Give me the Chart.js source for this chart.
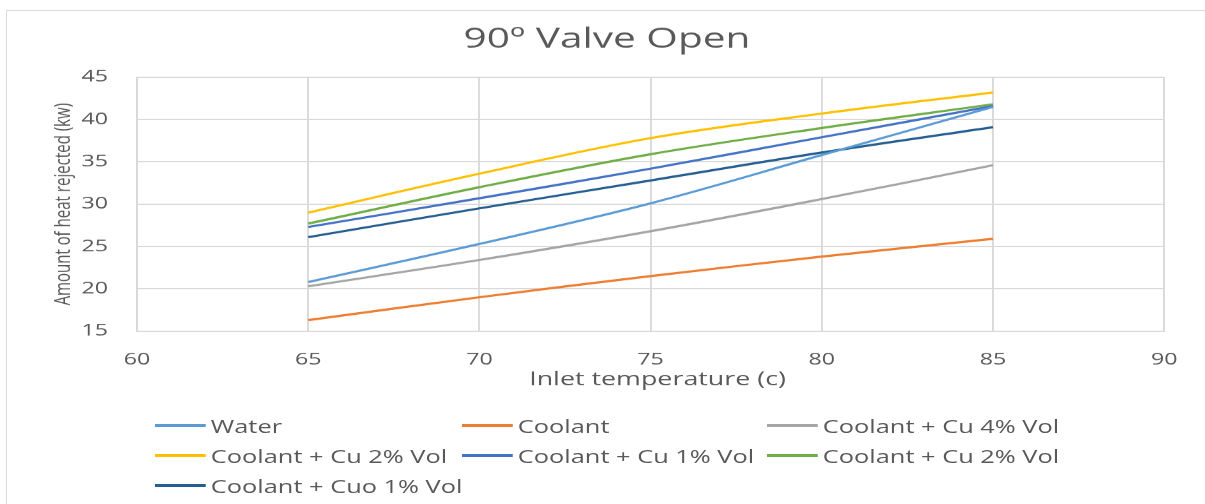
<!DOCTYPE html>
<html>
<head>
<meta charset="utf-8">
<title>90º Valve Open</title>
<script src="https://cdn.jsdelivr.net/npm/chart.js@4/dist/chart.umd.min.js"></script>
<style>
  html, body { margin: 0; padding: 0; background: #fff; }
  #wrap { position: relative; width: 1205px; height: 504px; overflow: hidden; }
  #frame { position: absolute; left: 6px; top: 10px; width: 1300px; height: 600px; border: 1px solid #d9d9d9; box-sizing: border-box; }
  #chart { position: absolute; left: 0; top: 0; }
  .item { position: absolute; height: 22px; display: flex; align-items: center; white-space: nowrap;
          transform: scaleX(1.45); transform-origin: 0 50%;
          font-family: 'Open Sans', sans-serif; font-size: 17.5px; color: #595959; }
  .item i { display: inline-block; width: 34.5px; height: 2.4px; margin-right: 4px; }
</style>
</head>
<body>
<div id="wrap">
  <div id="frame"></div>
  <canvas id="chart" width="831" height="504" style="width:1205px;height:504px"></canvas>
  <div id="legend"></div>
</div>
<script>
// inlet temperature (c)
const temps = [65, 70, 75, 80, 85];

// heat rejected (kw)
const water    = [20.8, 25.3, 30.1, 35.8, 41.5];
const coolant  = [16.3, 19.0, 21.5, 23.8, 25.9];
const cu4      = [20.3, 23.4, 26.8, 30.6, 34.6];
const cu2      = [29.0, 33.6, 37.8, 40.7, 43.2];
const cu1      = [27.3, 30.7, 34.2, 37.9, 41.6];
const cu2b     = [27.7, 32.0, 35.9, 39.0, 41.8];
const cuo1     = [26.1, 29.5, 32.8, 36.1, 39.1];

const seriesNames = ["Water", "Coolant", "Coolant + Cu 4% Vol", "Coolant + Cu 2% Vol",
                     "Coolant + Cu 1% Vol", "Coolant + Cu 2% Vol", "Coolant + Cuo 1% Vol"];
const seriesValues = [water, coolant, cu4, cu2, cu1, cu2b, cuo1];
const seriesColors = ["#5B9BD5", "#ED7D31", "#A5A5A5", "#FFC000", "#4472C4", "#70AD47", "#255E91"];

const xTicks = [60, 65, 70, 75, 80, 85, 90];
const yTicks = [15, 20, 25, 30, 35, 40, 45];

// the picture is stretched sideways, so draw narrow and widen
const SX = 1205 / 831;
const grey = "#595959";
const gridColor = "#d9d9d9";

const datasets = seriesNames.map((name, i) => ({
    label: name,
    data: temps.map((t, j) => ({ x: t, y: seriesValues[i][j] })),
    borderColor: seriesColors[i],
    backgroundColor: seriesColors[i],
    borderWidth: 2.2,
    pointRadius: 0,
    showLine: true,
    tension: 0.35
}));

const chart = new Chart("chart", {
    type: "scatter",
    data: { datasets: datasets },
    options: {
        responsive: false,
        devicePixelRatio: SX,
        animation: false,
        layout: { padding: { top: 10, left: 33.2, right: 27, bottom: 113.3 } },
        plugins: {
            legend: { display: false },
            tooltip: { enabled: false },
            title: {
                display: true,
                text: "90º Valve Open",
                color: grey,
                font: { family: "'Open Sans'", size: 28, weight: "normal" },
                padding: { top: 13, bottom: 20.5 }
            }
        },
        scales: {
            x: {
                type: "linear",
                min: xTicks[0],
                max: xTicks[xTicks.length - 1],
                afterFit: function(scale) { scale.height = 60; },
                ticks: { stepSize: 5, padding: 19, color: grey, font: { family: "'Open Sans'", size: 16 } },
                grid: { color: gridColor, lineWidth: 1.3, drawTicks: false },
                border: { color: gridColor, width: 1.3 },
                title: {
                    display: true,
                    text: "  Inlet temperature (c)",
                    color: grey,
                    font: { family: "'Open Sans'", size: 18.5 },
                    padding: 0
                }
            },
            y: {
                min: yTicks[0],
                max: yTicks[yTicks.length - 1],
                afterFit: function(scale) { scale.width = 94.5 - 33.2; },
                ticks: { stepSize: 5, padding: 20, color: grey, font: { family: "'Open Sans'", size: 16 } },
                grid: { color: gridColor, lineWidth: 1.3, drawTicks: false },
                border: { color: gridColor, width: 1.3 },
                title: {
                    display: true,
                    text: "Amount of heat rejected (kw)",
                    color: grey,
                    font: { family: "'Open Sans'", size: 15 },
                    padding: { top: 1.8, bottom: 0 }
                }
            }
        }
    }
});

// legend in three columns, like the original
const legendCols = [155, 462, 767];
const legendRows = [425.5, 455.5, 485.5];
const legendBox = document.getElementById("legend");
chart.data.datasets.forEach((ds, i) => {
    const item = document.createElement("div");
    item.className = "item";
    item.style.left = legendCols[i % 3] + "px";
    item.style.top = (legendRows[Math.floor(i / 3)] - 11) + "px";
    const swatch = document.createElement("i");
    swatch.style.background = ds.borderColor;
    item.appendChild(swatch);
    item.appendChild(document.createTextNode(ds.label));
    legendBox.appendChild(item);
});
</script>
</body>
</html>
